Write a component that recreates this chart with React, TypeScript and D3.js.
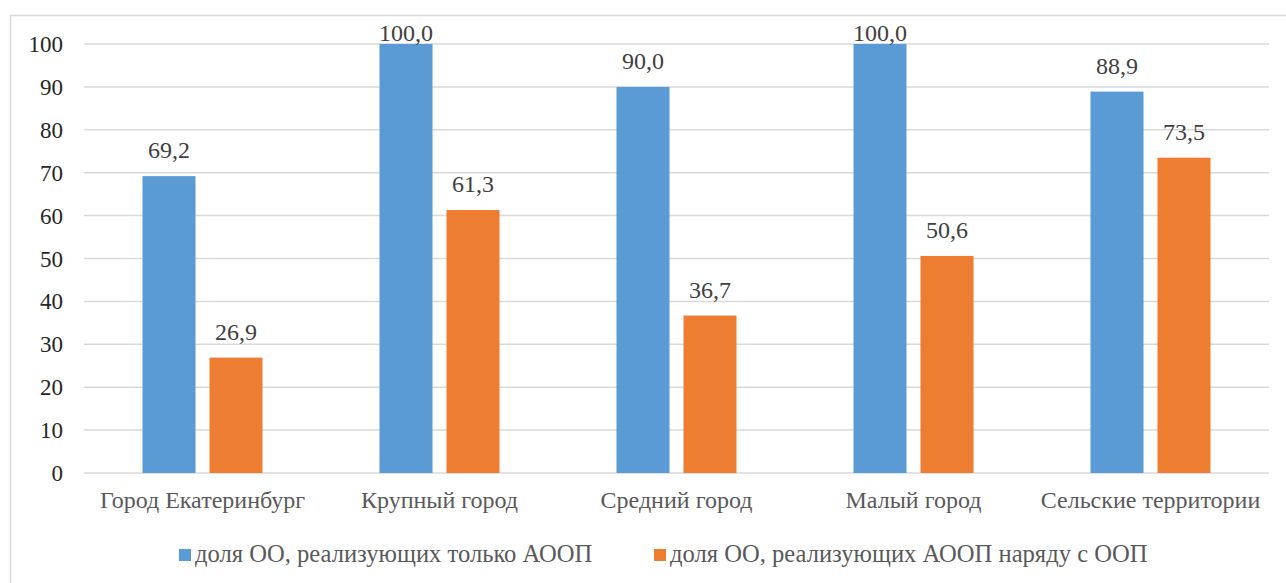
import React from "react";
import * as d3 from "d3";

const categories = ["Город Екатеринбург", "Крупный город", "Средний город", "Малый город", "Сельские территории"];
const seriesNames = ["доля ОО, реализующих только АООП", "доля ОО, реализующих АООП наряду с ООП"];
const onlyAOOP = [69.2, 100.0, 90.0, 100.0, 88.9];
const withOOP = [26.9, 61.3, 36.7, 50.6, 73.5];
const yTicks = [0, 10, 20, 30, 40, 50, 60, 70, 80, 90, 100];
const colors = ["#5B9BD5", "#ED7D31"];

const W = 1286, H = 583;
const left = 84, right = 1269, top = 44, bottom = 473;
const ff = { fontFamily: "Liberation Serif" };

export default function App() {
  const x = d3.scaleBand<string>().domain(categories).range([left, right]).padding(0);
  const y = d3.scaleLinear().domain([0, 100]).range([bottom, top]);
  const barW = 53, gap = 14;
  const series = [onlyAOOP, withOOP];
  const fmt = (v: number) => v.toFixed(1).replace(".", ",");
  return (
    <svg width={W} height={H} style={{ display: "block", position: "absolute", left: 0, top: 0 }}>
      <rect x={10.5} y={15.5} width={W} height={H} fill="#fff" stroke="#d9d9d9" strokeWidth={1.5} />
      {yTicks.map((t) => (
        <g key={t}>
          <line x1={left} x2={right} y1={y(t)} y2={y(t)} stroke="#d9d9d9" strokeWidth={1.5} />
          <text style={ff} x={63} y={y(t)} dy="0.35em" textAnchor="end" fontSize={23} fill="#262626">{t}</text>
        </g>
      ))}
      {categories.map((c, i) => {
        const cx = (x(c) as number) + x.bandwidth() / 2;
        return (
          <g key={c}>
            {series.map((s, j) => {
              const bx = j === 0 ? cx - gap / 2 - barW : cx + gap / 2;
              const ly = Math.max(y(s[i]) - 18, 41);
              return (
                <g key={j}>
                  <rect x={bx} y={y(s[i])} width={barW} height={bottom - y(s[i])} fill={colors[j]} />
                  <text style={ff} x={bx + barW / 2} y={ly} textAnchor="middle" fontSize={24} fill="#404040">{fmt(s[i])}</text>
                </g>
              );
            })}
            <text style={ff} x={cx} y={508} textAnchor="middle" fontSize={24} fill="#595959">{c}</text>
          </g>
        );
      })}
      {seriesNames.map((n, j) => {
        const lx = j === 0 ? 179 : 654;
        return (
          <g key={n}>
            <rect x={lx} y={549} width={12} height={12} fill={colors[j]} />
            <text style={ff} x={lx + 16} y={562} fontSize={24.6} fill="#595959">{n}</text>
          </g>
        );
      })}
    </svg>
  );
}
